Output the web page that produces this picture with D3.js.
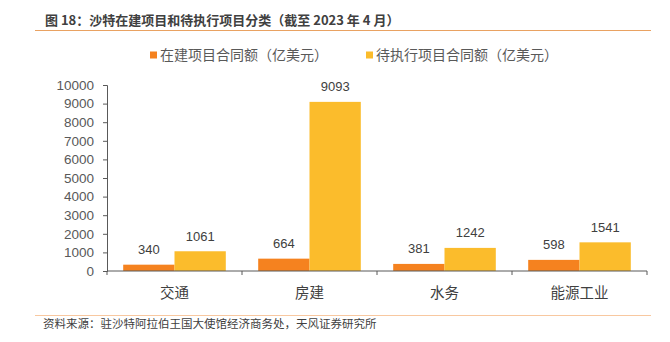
<!DOCTYPE html>
<html><head><meta charset="utf-8">
<script src="https://cdn.jsdelivr.net/npm/d3@7"></script>
<style>
html,body{margin:0;padding:0;background:#fff;}
svg{display:block;}
text{font-family:"Liberation Sans","Noto Sans CJK SC",sans-serif;}
</style></head>
<body>
<svg id="c" width="670" height="342"></svg>
<script>
const categories = ["交通","房建","水务","能源工业"];
const underConstruction = [340, 664, 381, 598];
const pending = [1061, 9093, 1242, 1541];
const seriesNames = ["在建项目合同额（亿美元）","待执行项目合同额（亿美元）"];
const yTicks = [0,1000,2000,3000,4000,5000,6000,7000,8000,9000,10000];
const colors = ["#F5821F","#FBBC2C"];

const svg = d3.select("#c");
const cjk = '"Noto Sans CJK SC","Liberation Sans",sans-serif';

// title
svg.append("text").attr("x",45).attr("y",20).attr("dy","0.35em")
  .style("font-family",cjk).style("font-size","13px").style("font-weight","bold")
  .attr("fill","#404040").text("图 18：沙特在建项目和待执行项目分类（截至 2023 年 4 月）");
svg.append("line").attr("x1",35).attr("x2",651).attr("y1",30.5).attr("y2",30.5)
  .attr("stroke","#E9A262").attr("stroke-width",1.2);

// legend
const legX = [150, 366];
seriesNames.forEach((n,i)=>{
  svg.append("rect").attr("x",legX[i]).attr("y",51.5).attr("width",7).attr("height",7).attr("fill",colors[i]);
  svg.append("text").attr("x",legX[i]+10).attr("y",55).attr("dy","0.35em")
    .style("font-family",cjk).style("font-size","14px").attr("fill","#595959").text(n);
});

const x0 = d3.scaleBand().domain(categories).range([107,647]).paddingInner(0.24).paddingOuter(0.12);
const x1 = d3.scaleBand().domain([0,1]).range([0,x0.bandwidth()]);
const y = d3.scaleLinear().domain([0,10000]).range([271,85]);

// y axis
const ya = svg.append("g").attr("transform","translate(107,0)")
  .call(d3.axisLeft(y).tickValues(yTicks).tickSize(4).tickPadding(9).tickFormat(d3.format("d")));
ya.selectAll("path,line").attr("stroke","#595959");
ya.selectAll("text").style("font-size","13.5px").style("font-family",'"Liberation Sans",sans-serif').attr("fill","#595959");

// bars
const data = categories.map((c,i)=>({c, v:[underConstruction[i], pending[i]]}));
const g = svg.append("g");
data.forEach(d=>{
  d.v.forEach((v,j)=>{
    const bx = x0(d.c)+x1(j);
    g.append("rect").attr("x",bx).attr("y",y(v)).attr("width",x1.bandwidth()).attr("height",y(0)-y(v)).attr("fill",colors[j]);
    g.append("text").attr("x",bx+x1.bandwidth()/2).attr("y",y(v)-15).attr("dy","0.35em")
      .attr("text-anchor","middle").style("font-size","13px").attr("fill","#404040").text(v);
  });
});

// x axis
const xa = svg.append("g").attr("transform","translate(0,271)");
xa.append("line").attr("x1",107).attr("x2",647).attr("stroke","#595959");
const bounds = [107].concat(categories.map(c=>x0(c)+x0.bandwidth()+x0.step()*x0.paddingInner()/2));
bounds[bounds.length-1]=647;
bounds.forEach(b=>xa.append("line").attr("x1",b).attr("x2",b).attr("y1",0).attr("y2",4).attr("stroke","#595959"));
categories.forEach(c=>{
  xa.append("text").attr("x",x0(c)+x0.bandwidth()/2).attr("y",22).attr("dy","0.35em")
    .attr("text-anchor","middle").style("font-family",cjk).style("font-size","14.5px").attr("fill","#404040").text(c);
});

// source
svg.append("line").attr("x1",35).attr("x2",651).attr("y1",315.5).attr("y2",315.5)
  .attr("stroke","#F8C8A0").attr("stroke-width",1.2);
svg.append("text").attr("x",43).attr("y",324).attr("dy","0.35em")
  .style("font-family",cjk).style("font-size","11.5px").attr("fill","#404040")
  .text("资料来源：驻沙特阿拉伯王国大使馆经济商务处，天风证券研究所");
</script>
</body></html>
